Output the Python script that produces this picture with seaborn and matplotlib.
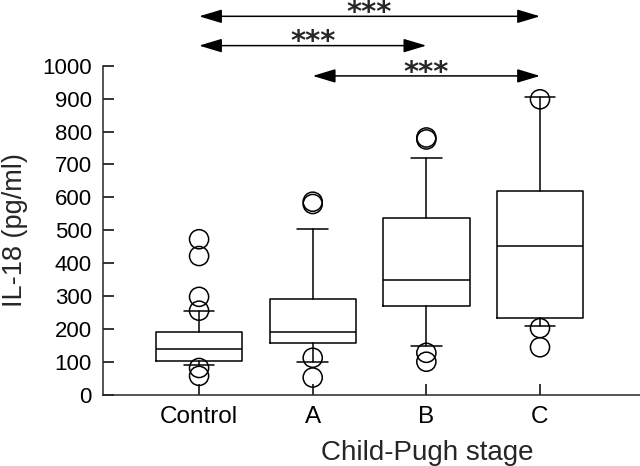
import numpy as np
import pandas as pd
import matplotlib
matplotlib.use("Agg")
import matplotlib.pyplot as plt
import seaborn as sns

# --- data (IL-18, pg/ml)
groups = ["Control", "A", "B", "C"]
q1 = [104, 159, 270, 233]
median = [140, 192, 349, 452]
q3 = [192, 291, 538, 619]
whisk_lo = [91, 101, 149, 210]
whisk_hi = [255, 504, 719, 904]

out_group = ["Control"] * 6 + ["A"] * 4 + ["B"] * 4 + ["C"] * 3
out_value = [473, 422, 298, 256, 82, 58,
             587, 580, 113, 53,
             782, 776, 128, 101,
             898, 203, 145]

# pairwise comparisons (group index from -> to)
comp_from = [0, 0, 1]
comp_to = [3, 2, 3]
comp_label = ["***", "***", "***"]

sns.set_style("ticks")
plt.rcParams["font.family"] = ["Liberation Sans", "DejaVu Sans"]

fig = plt.figure(figsize=(6.4, 4.66), dpi=100)
ax = fig.add_axes([0.161, 0.1524, 0.839, 0.7066])

stats = []
for i, g in enumerate(groups):
    stats.append({"label": g, "q1": q1[i], "med": median[i], "q3": q3[i],
                  "whislo": whisk_lo[i], "whishi": whisk_hi[i], "fliers": []})

lw = 1.1
ax.bxp(stats, positions=range(len(groups)), widths=0.76, capwidths=0.27,
       showfliers=False, patch_artist=False,
       boxprops=dict(color="black", linewidth=lw),
       medianprops=dict(color="black", linewidth=lw),
       whiskerprops=dict(color="black", linewidth=lw),
       capprops=dict(color="black", linewidth=lw))

df_out = pd.DataFrame({"x": [groups.index(g) for g in out_group], "y": out_value})
sns.scatterplot(data=df_out, x="x", y="y", ax=ax, marker="o", s=190,
                facecolor="none", edgecolor="black", linewidth=lw, zorder=3)

ax.set_xlim(-0.845, 3.88)
ax.set_ylim(0, 1000)
ax.set_yticks(np.arange(0, 1001, 100))
ax.set_xticks(range(len(groups)))
ax.set_xticklabels(groups)
sns.despine(ax=ax)
for s in ["left", "bottom"]:
    ax.spines[s].set_linewidth(lw)
ax.tick_params(axis="both", direction="in", length=8, width=lw,
               pad=8, colors="black")
ax.tick_params(axis="y", labelsize=16)
ax.tick_params(axis="x", labelsize=17.5)

ax.set_xlabel("Child-Pugh stage", fontsize=20)
ax.set_ylabel("IL-18 (pg/ml)", fontsize=19.5)
ax.xaxis.set_label_coords(0.603, -0.137)
ax.yaxis.set_label_coords(-0.14, 0.5)

# significance arrows above the axes
levels = [1150, 1061, 969]
for a, b, lab, lvl in zip(comp_from, comp_to, comp_label, levels):
    ax.annotate("", xy=(b, lvl), xytext=(a, lvl), annotation_clip=False,
                arrowprops=dict(arrowstyle="<|-|>,head_length=1.4,head_width=0.42",
                                color="black", lw=lw, shrinkA=0, shrinkB=0,
                                mutation_scale=10))
    ax.annotate(lab, xy=((a + b) / 2, lvl), xytext=(0, -3.5), textcoords="offset points",
                ha="center", va="baseline", fontsize=21, family="DejaVu Sans",
                fontweight="bold", annotation_clip=False)

fig.savefig("out.png", dpi=100)
